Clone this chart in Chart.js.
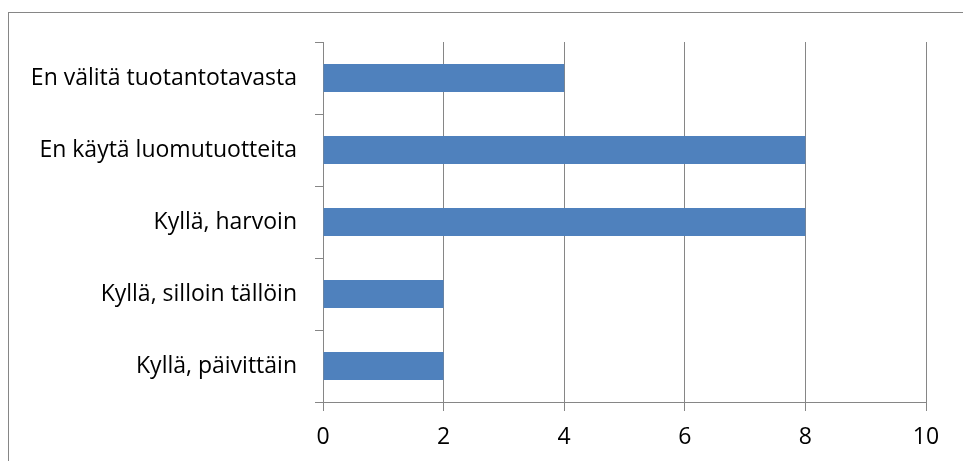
<!DOCTYPE html>
<html>
<head>
<meta charset="utf-8">
<script src="https://cdn.jsdelivr.net/npm/chart.js@4.4.1/dist/chart.umd.min.js"></script>
<style>
  html, body { margin: 0; padding: 0; background: #ffffff; }
  #wrap { position: relative; width: 963px; height: 461px; overflow: hidden; }
  #frame { position: absolute; left: 8px; top: 12px; width: 1000px; height: 500px;
           border-left: 1px solid #868686; border-top: 1px solid #868686; }
  #c { position: absolute; left: 0; top: 0; }
</style>
</head>
<body>
<div id="wrap">
  <div id="frame"></div>
  <canvas id="c" width="963" height="461"></canvas>
</div>
<script>
// Answers to "do you buy organic products?" (count of respondents)
const categories = [
  'En välitä tuotantotavasta',
  'En käytä luomutuotteita',
  'Kyllä, harvoin',
  'Kyllä, silloin tällöin',
  'Kyllä, päivittäin'
];
const counts = [4, 8, 8, 2, 2];
const xTicks = [0, 2, 4, 6, 8, 10];

const axisGrey = '#868686';
const labelFont = { family: 'Open Sans', size: 23 };

new Chart(document.getElementById('c'), {
  type: 'bar',
  data: {
    labels: categories,
    datasets: [{
      data: counts,
      backgroundColor: '#4F81BD',
      borderWidth: 0,
      barPercentage: 0.39,
      categoryPercentage: 1.0
    }]
  },
  options: {
    indexAxis: 'y',
    responsive: false,
    animation: false,
    events: [],
    layout: { padding: { left: 0, right: 37, top: 42, bottom: 0 } },
    plugins: { legend: { display: false }, tooltip: { enabled: false } },
    scales: {
      x: {
        min: 0,
        max: 10,
        afterBuildTicks: (scale) => { scale.ticks = xTicks.map(v => ({ value: v })); },
        afterFit: (scale) => { scale.height = 59; },
        grid: { color: axisGrey, lineWidth: 1, tickLength: 9, drawTicks: true },
        border: { color: axisGrey, width: 1 },
        ticks: { color: '#000000', font: labelFont, padding: 13, maxRotation: 0 }
      },
      y: {
        afterFit: (scale) => { scale.width = 323; },
        grid: { offset: true, drawOnChartArea: false, color: axisGrey, tickLength: 8 },
        border: { color: axisGrey, width: 1 },
        ticks: { color: '#000000', font: labelFont, padding: 18 }
      }
    }
  }
});
</script>
</body>
</html>
